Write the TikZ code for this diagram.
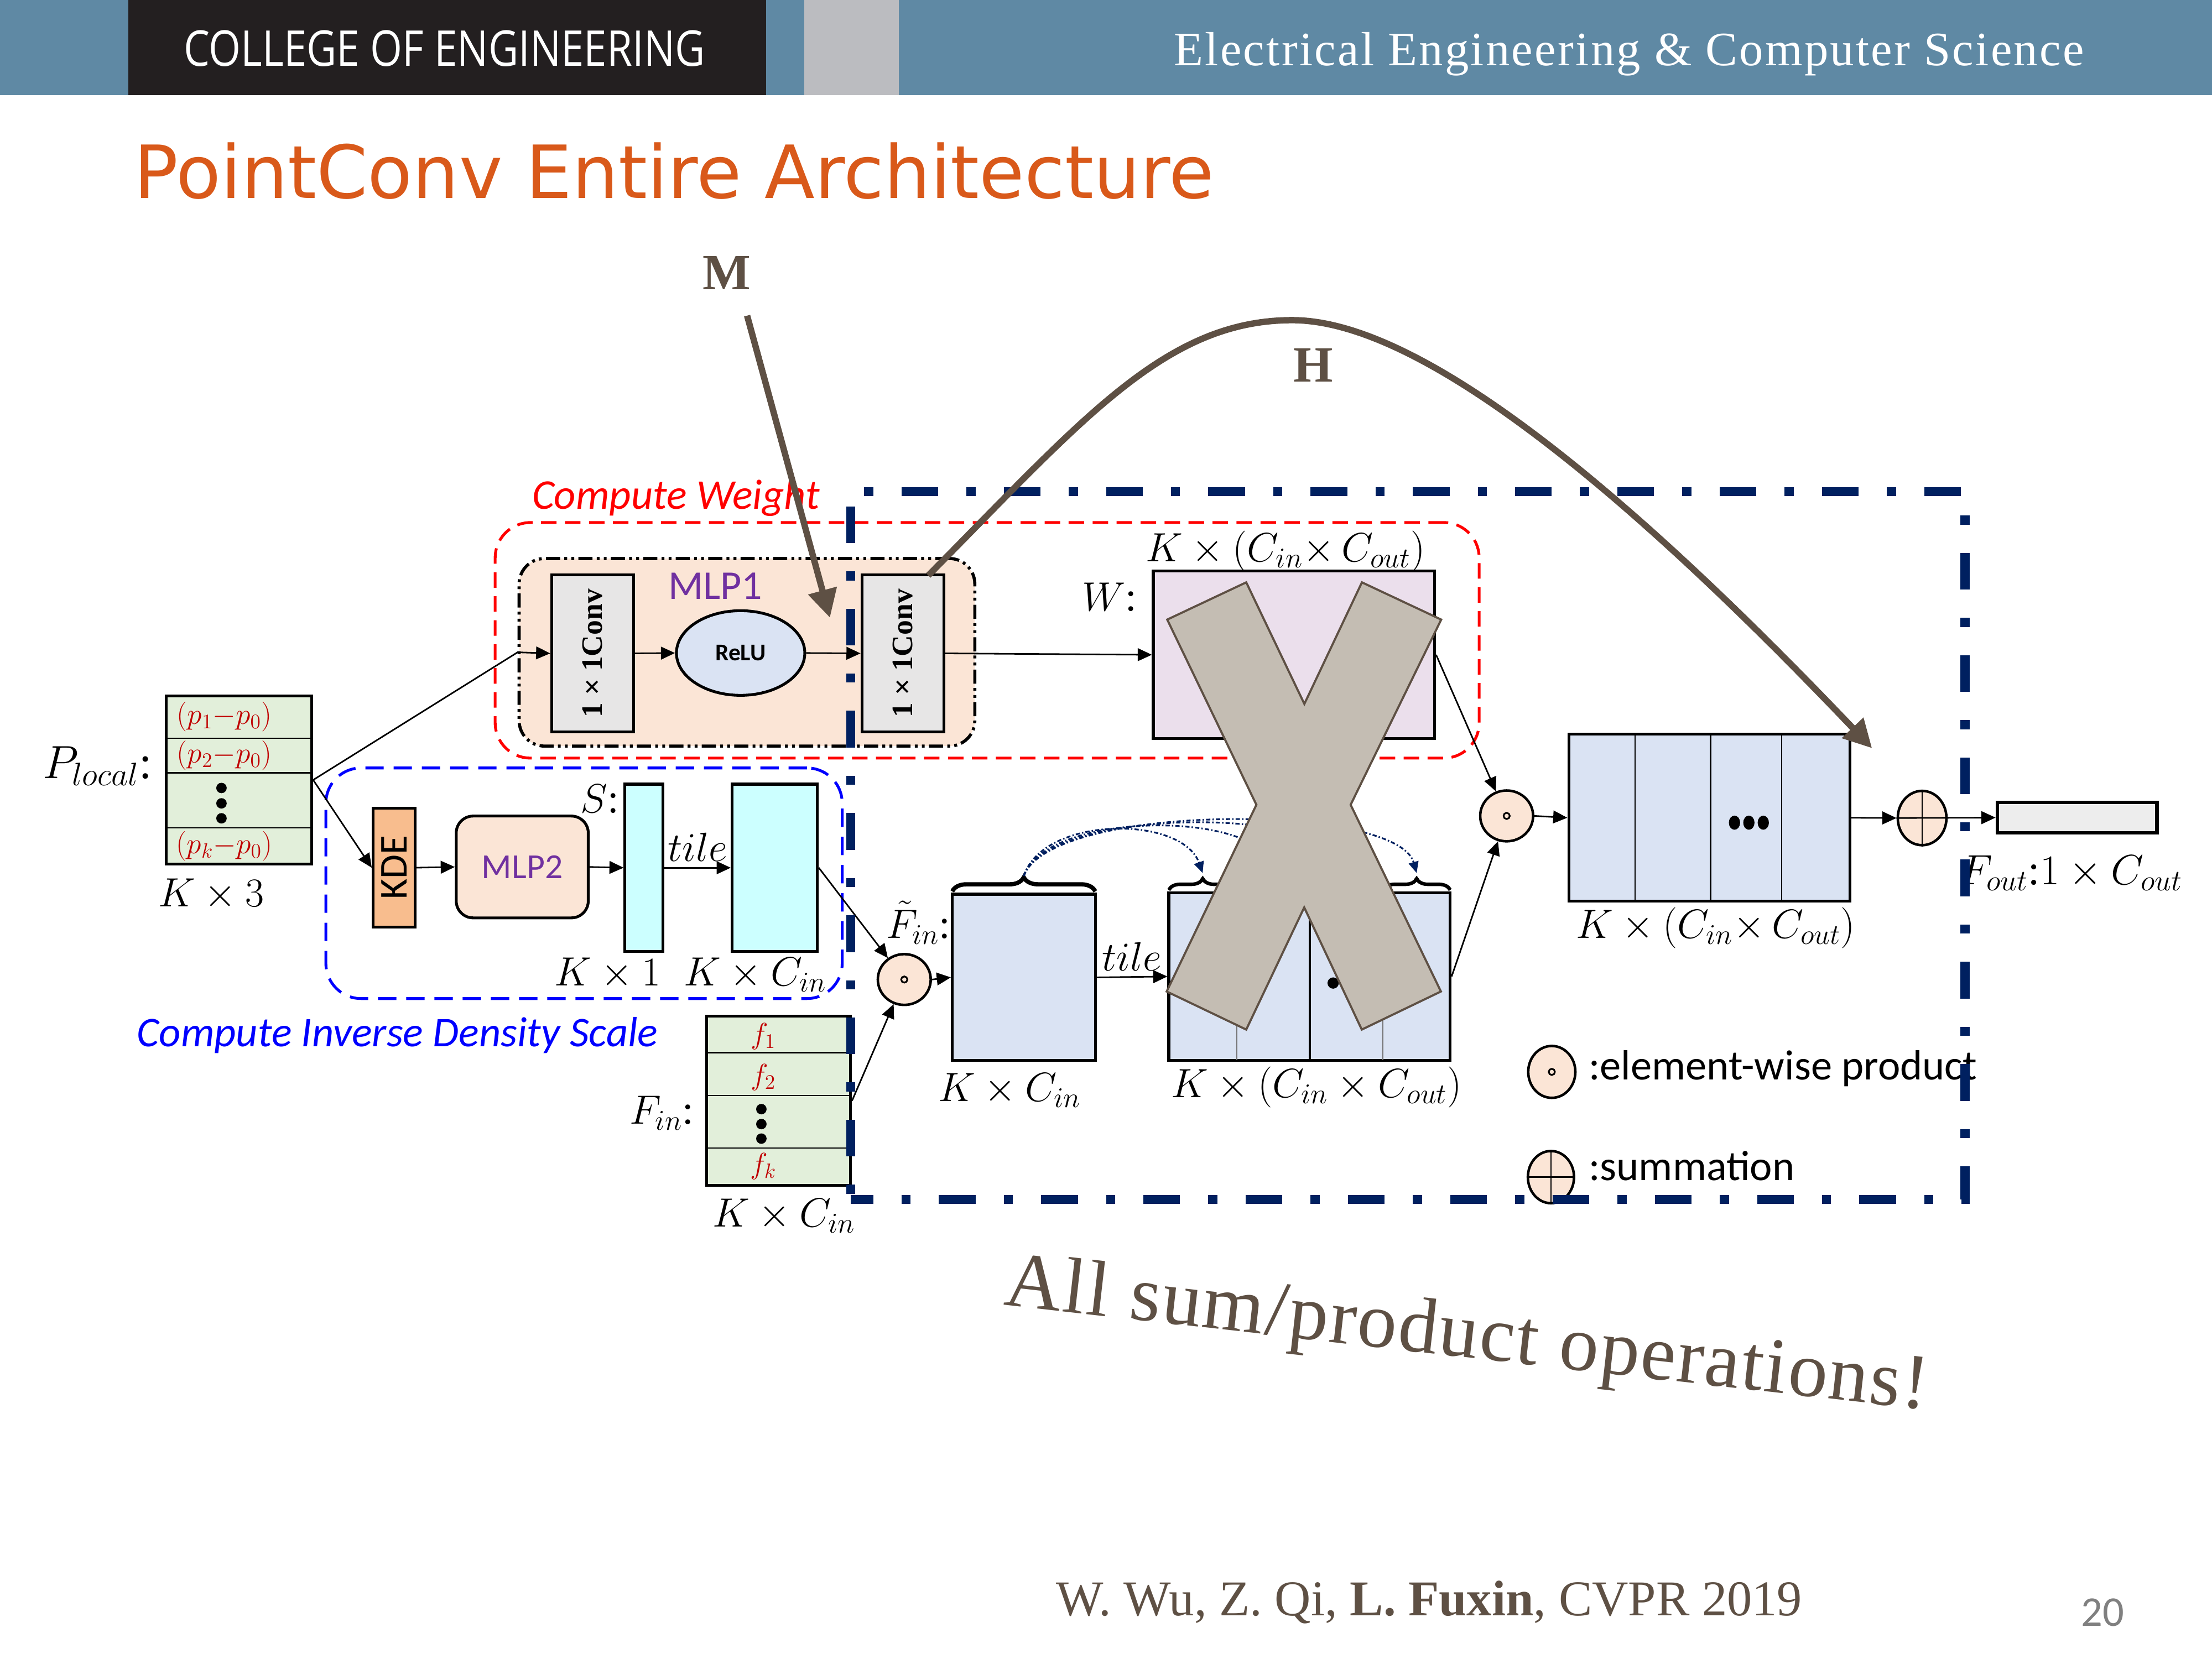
\RequirePackage{fix-cm}
\documentclass[tikz,border=0pt]{standalone}
\usepackage{fontspec}
\setmainfont{Liberation Serif}
\newfontfamily\calibri{Carlito}
\newfontfamily\titlefont{DejaVu Sans}
\newfontfamily\bannersans{Open Sans}
\usetikzlibrary{arrows.meta,decorations.pathreplacing,fit,shapes.geometric}
\newcommand\fsz[1]{\fontsize{#1}{#1}\selectfont}

\definecolor{bannerblue}{RGB}{95,137,164}
\definecolor{bannerdark}{RGB}{35,31,32}
\definecolor{bannergray}{RGB}{187,188,192}
\definecolor{titleorange}{RGB}{217,89,26}
\definecolor{brownc}{RGB}{94,80,68}
\definecolor{navy}{RGB}{0,32,96}
\definecolor{redc}{RGB}{255,0,0}
\definecolor{bluec}{RGB}{0,0,255}
\definecolor{purplec}{RGB}{112,48,160}
\definecolor{darkred}{RGB}{192,0,0}
\definecolor{greenfill}{RGB}{226,239,218}
\definecolor{peach}{RGB}{251,229,214}
\definecolor{kdeorange}{RGB}{248,189,142}
\definecolor{cyanfill}{RGB}{204,255,255}
\definecolor{lightblue}{RGB}{218,227,243}
\definecolor{lavender}{RGB}{235,223,236}
\definecolor{convgray}{RGB}{231,230,230}
\definecolor{xfill}{RGB}{196,189,179}
\definecolor{outgray}{RGB}{237,237,237}
\definecolor{pagegray}{RGB}{128,128,128}

\begin{document}
\begin{tikzpicture}[x=1pt,y=-1pt,
  conn/.style={line width=1.1pt,-{Triangle[length=10pt,width=9pt]}},
  cell/.style={draw=black,line width=2pt,inner sep=0pt},
  lbl/.style={inner sep=0pt,font=\fsz{29}},
  rowtxt/.style={inner sep=0pt,text=darkred,font=\fsz{21}},
  opnode/.style={ellipse,draw=black,line width=1.8pt,fill=peach,inner sep=0pt},
  thinsep/.style={line width=1pt},
  bracetop/.style={decorate,decoration={brace,amplitude=#1},line width=2.5pt},
  dotcurve/.style={navy,line width=1.2pt,dash pattern=on 3pt off 1.5pt on 1pt off 1.5pt,
                   -{Triangle[length=8pt,width=7pt]}},
  bigarrow/.style={brownc,line width=4.5pt,-{Triangle[length=20pt,width=20pt]}},
  sanslbl/.style={inner sep=0pt,font=\calibri\fsz{30}}
]
\useasboundingbox (0,0) rectangle (1568,1176);
\fill[white] (0,0) rectangle (1568,1176);

% ---------- banner ----------
\fill[bannerblue] (0,0) rectangle (1568,67.5);
\fill[bannerdark] (91,0) rectangle (543,67.5);
\fill[bannergray] (570,0) rectangle (637,67.5);
\node[anchor=base west,inner sep=0pt,text=white,font=\bannersans\fsz{35}] (college) at (130,47)
  {\scalebox{0.835}[1]{COLLEGE OF ENGINEERING}};
\node[anchor=base west,inner sep=0pt,text=white,font=\fsz{34}\addfontfeature{LetterSpace=3.8}] (dept) at (832,46.5)
  {Electrical Engineering \& Computer Science};

% ---------- title ----------
\node[anchor=base west,inner sep=0pt,text=titleorange,font=\titlefont\fsz{52}] (title) at (95,140.5)
  {PointConv Entire Architecture};

% ---------- group frames ----------
\node[fit={(351,370.5)(1048.5,537.5)},inner sep=0pt,draw=redc,line width=2pt,
      dash pattern=on 11pt off 6pt,rounded corners=25pt] (cwframe) {};
\node[fit={(231,544.5)(597,708)},inner sep=0pt,draw=bluec,line width=2pt,
      dash pattern=on 13pt off 7pt,rounded corners=25pt] (idframe) {};
\node[fit={(368,396)(691,529)},inner sep=0pt,draw=black,fill=peach,line width=2.2pt,
      dash pattern=on 10pt off 3pt on 2pt off 3pt on 2pt off 3pt,rounded corners=18pt] (mlpone) {};

\node[anchor=base west,inner sep=0pt,text=redc,font=\calibri\itshape\fsz{30}] (cwlabel) at (377,361) {Compute Weight};
\node[anchor=base west,inner sep=0pt,text=bluec,font=\calibri\itshape\fsz{30}] (idlabel) at (97,742) {Compute Inverse Density Scale};

% ---------- P_local ----------
\node[cell,fill=greenfill,fit={(118,493.5)(221,612.5)}] (plocal) {};
\draw[thinsep] (118,523.5) -- (221,523.5);
\draw[thinsep] (118,548) -- (221,548);
\draw[thinsep] (118,587) -- (221,587);
\node[rowtxt] (pr1) at (159,508) {$(p_1{-}p_0)$};
\node[rowtxt] (pr2) at (159,535.5) {$(p_2{-}p_0)$};
\node[rowtxt] (prk) at (159,600) {$(p_k{-}p_0)$};
\foreach \yy in {558.7,569.6,580.2} \fill (157,\yy) circle[radius=3.7pt];
\node[lbl,anchor=base west,font=\fsz{33}] (plabel) at (30,552) {$P_{local}$:};
\node[lbl,anchor=base west] (pdim) at (112,643) {$K\times 3$};

% ---------- density branch ----------
\node[cell,fill=kdeorange,fit={(264.5,573)(294.3,657.4)}] (kde) {};
\node[rotate=90,inner sep=0pt,font=\calibri\fsz{28}] at (kde.center) {KDE};
\node[cell,fill=peach,rounded corners=12pt,fit={(323.4,578.6)(417,650.8)}] (mlptwo) {};
\node[inner sep=0pt,text=purplec,font=\calibri\fsz{25}] at (mlptwo.center) {MLP2};
\node[cell,fill=cyanfill,fit={(443,556)(470,674.5)}] (sbar) {};
\node[cell,fill=cyanfill,fit={(519,556)(579.4,674.5)}] (tilebox) {};
\node[lbl,anchor=base east] (slabel) at (439,576) {$S$:};
\node[lbl,anchor=base west] (sdim) at (393,699) {$K\times 1$};
\node[lbl,anchor=base west] (tdim) at (484.5,699) {$K\times C_{in}$};

\draw[conn] (plocal.east) -- (kde.west);
\draw[conn] (kde.east) -- (mlptwo.west);
\draw[conn] (mlptwo.east) -- (sbar.west);
\draw[conn] (sbar.east) -- node[lbl,above=4pt] (tileone) {$tile$} (tilebox.west);

% ---------- MLP1 ----------
\node[inner sep=0pt,text=purplec,font=\calibri\fsz{29}] (mlponelabel) at (507,415.5) {MLP1};
\node[cell,fill=convgray,fit={(391,407.5)(449,519)}] (conv1) {};
\node[rotate=90,inner sep=0pt,font=\bfseries\fsz{21}] at (conv1.center) {1 × 1Conv};
\node[ellipse,draw=black,line width=2pt,fill=lightblue,minimum width=91pt,minimum height=60pt,inner sep=0pt] (relu) at (525,463) {};
\node[inner sep=0pt,font=\calibri\bfseries\fsz{17}] at (relu.center) {ReLU};
\node[cell,fill=convgray,fit={(611,407.5)(669,519)}] (conv2) {};
\node[rotate=90,inner sep=0pt,font=\bfseries\fsz{21}] at (conv2.center) {1 × 1Conv};

\draw[conn] (plocal.east) -- (mlpone.west) -- (conv1.west);
\draw[conn] (conv1.east) -- (relu.west);
\draw[conn] (relu.east) -- (conv2.west);

% ---------- weights W ----------
\node[cell,fill=lavender,fit={(817.5,405)(1017,523.5)}] (wbox) {};
\node[lbl,anchor=base east] (wlabel) at (806,433) {$W$:};
\node[lbl,anchor=base west] (wdim) at (812,398) {$K\times(C_{in}{\times}\,C_{out})$};
\draw[conn] (conv2.east) -- (wbox.west);

% ---------- input features ----------
\node[cell,fill=greenfill,fit={(501,720.5)(603,840.3)}] (fin) {};
\draw[thinsep] (501,746.3) -- (603,746.3);
\draw[thinsep] (501,776.8) -- (603,776.8);
\draw[thinsep] (501,814) -- (603,814);
\node[rowtxt] (f1) at (541,735) {$f_1$};
\node[rowtxt] (f2) at (541,764) {$f_2$};
\node[rowtxt] (fk) at (541,827) {$f_k$};
\foreach \yy in {786.4,797,807.3} \fill (539.7,\yy) circle[radius=3.7pt];
\node[lbl,anchor=base east] (finlabel) at (492,797) {$F_{in}$:};
\node[lbl,anchor=base west] (findim) at (505,870) {$K\times C_{in}$};

\node[opnode,minimum width=37.5pt,minimum height=36pt] (circ2) at (641,694.5) {};
\draw[line width=1.2pt] (circ2.center) circle[radius=2.2pt];
\draw[conn] (tilebox.east) -- (circ2);
\draw[conn] (fin.east) -- (circ2);

\node[cell,fill=lightblue,fit={(675,634)(776.4,752)}] (fint) {};
\node[lbl,anchor=base west] (fintlabel) at (628,665) {$\tilde{F}_{in}$:};
\node[lbl,anchor=base west] (fintdim) at (665,781) {$K\times C_{in}$};
\draw[conn] (circ2.east) -- (fint.west);
\draw[bracetop=10pt,line width=3pt] (675,632) -- (776.4,632);
\coordinate (fbtip) at (725.7,621);

\node[cell,fill=lightblue,fit={(828.5,633)(1028,751.7)}] (tiled) {};
\draw[line width=0.8pt,black!55] (876.6,633) -- (876.6,751.7);
\draw[line width=1.4pt] (928.4,633) -- (928.4,751.7);
\draw[line width=0.8pt,black!55] (980.4,633) -- (980.4,751.7);
\fill (945,697) circle[radius=4pt];
\node[lbl,anchor=base west] (tileddim) at (830,778) {$K\times(C_{in}\times C_{out})$};
\draw[conn] (fint.east) -- node[lbl,above=4pt] (tiletwo) {$tile$} (tiled.west);
\foreach \a/\b in {828.5/876.6,876.6/928.4,928.4/980.4,980.4/1028}
  \draw[bracetop=8pt] (\a,631) -- (\b,631);
\coordinate (t1) at (852.5,619);
\coordinate (t2) at (902.5,619);
\coordinate (t3) at (954.4,619);
\coordinate (t4) at (1004.2,619);
\draw[dotcurve] (fbtip) .. controls (740,578) and (838,578) .. (t1);
\draw[dotcurve] (fbtip) .. controls (742,575) and (888,575) .. (t2);
\draw[dotcurve] (fbtip) .. controls (744,572) and (940,572) .. (t3);
\draw[dotcurve] (fbtip) .. controls (745,569) and (990,569) .. (t4);

% ---------- product, sum, output ----------
\node[opnode,minimum width=37.5pt,minimum height=36pt] (circ1) at (1068,578.5) {};
\draw[line width=1.2pt] (circ1.center) circle[radius=2.2pt];
\draw[conn] (wbox.east) -- (circ1);
\draw[conn] (tiled.east) -- (circ1);

\node[cell,fill=lightblue,fit={(1112,520.6)(1311.4,639)}] (bigbox) {};
\foreach \xx in {1159,1212.5,1263} \draw[thinsep] (\xx,520.6) -- (\xx,639);
\foreach \xx in {1229.5,1239.7,1249.9} \fill (\xx,583.3) ellipse[x radius=4pt,y radius=5pt];
\node[lbl,anchor=base west] (bigdim) at (1117,665) {$K\times(C_{in}{\times}\,C_{out})$};
\draw[conn] (circ1.east) -- (bigbox.west);

\node[opnode,minimum width=34.5pt,minimum height=38.5pt] (sumc) at (1362.5,580) {};
\draw[line width=1pt] (sumc.north) -- (sumc.south);
\node[cell,fill=outgray,line width=2.5pt,fit={(1415.8,569)(1529,590.4)}] (outbox) {};
\draw[conn] (bigbox.east) -- (sumc.west);
\draw[conn] (sumc.west) -- (outbox.west);
\node[lbl,anchor=base west,font=\fsz{30}] (outlabel) at (1389,627) {$F_{out}$:$1\times C_{out}$};

% ---------- legend ----------
\node[opnode,minimum width=33.4pt,minimum height=36.8pt] (legprod) at (1100,760) {};
\draw[line width=1.2pt] (legprod.center) circle[radius=2.2pt];
\node[sanslbl,anchor=base west] (legprodtxt) at (1126,765.6) {:element-wise product};
\node[opnode,minimum width=32.7pt,minimum height=37pt] (legsum) at (1099.4,834.6) {};
\draw[line width=1pt] (legsum.north) -- (legsum.south);
\draw[line width=1pt] (legsum.west) -- (legsum.east);
\node[sanslbl,anchor=base west] (legsumtxt) at (1126,837) {:summation};

% ---------- convolution frame ----------
\node[fit={(603,348.5)(1393,850.5)},inner sep=0pt,draw=navy,line width=6.5pt,
      dash pattern=on 26pt off 20pt on 6.5pt off 20pt,dash phase=10pt] (convframe) {};

% ---------- crossing-out mark ----------
\draw[brownc,line width=1.5pt,fill=xfill,line join=miter]
  (827.4,439.3) -- (883.4,412.9) -- (924.6,499.1) -- (965.4,412.9) -- (1021.6,439.3)
  -- (957.4,570.6) -- (1021.4,703) -- (965.3,730) -- (924.5,643.4) -- (883.4,730)
  -- (827,703) -- (890.6,570.6) -- cycle;

% ---------- annotations ----------
\node[inner sep=0pt,text=brownc,font=\bfseries\fsz{36}] (mlabel) at (515,193.6) {M};
\node[inner sep=0pt,text=brownc,font=\bfseries\fsz{36}] (hlabel) at (931,259) {H};
\coordinate (mstart) at (529.6,223.8);
\coordinate (mtip) at (588.3,438);
\draw[bigarrow] (mstart) -- (mtip);
\coordinate (hstart) at (658,408);
\coordinate (htip) at (1327,530.5);
\draw[bigarrow] (hstart) .. controls (767,298) and (826,227) .. (916,227)
  .. controls (996,227) and (1127,320.5) .. (htip);

\node[anchor=base west,inner sep=0pt,rotate=-6.5,text=brownc,font=\fsz{56}\addfontfeature{LetterSpace=2}] (remark) at (711,925)
  {All sum/product operations!};

% ---------- footer ----------
\node[anchor=base west,inner sep=0pt,text=brownc,font=\fsz{35.5}] (cite) at (748.5,1145.3)
  {W. Wu, Z. Qi, \textbf{L. Fuxin}, CVPR 2019};
\node[anchor=base west,inner sep=0pt,text=pagegray,font=\calibri\fsz{30}] (pagenum) at (1475,1153) {20};
\end{tikzpicture}
\end{document}
